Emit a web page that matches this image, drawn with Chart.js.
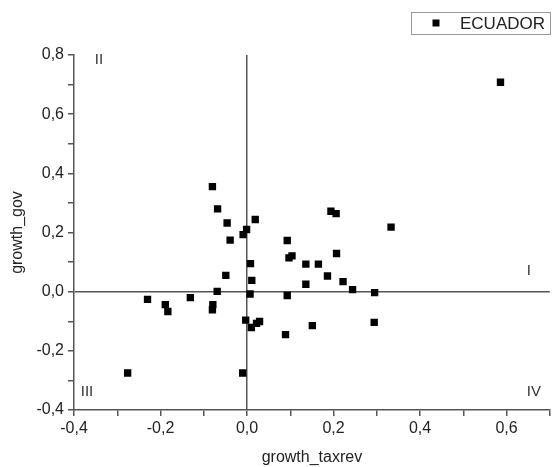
<!DOCTYPE html>
<html>
<head>
  <meta charset="UTF-8" />
  <title>growth_gov vs growth_taxrev</title>
  <style>
    html, body { margin: 0; padding: 0; background: #fff; }
    #wrap { width: 555px; height: 467px; }
  </style>
</head>
<body>
  <div id="wrap"><canvas id="scatter"></canvas></div>
  <script src="https://cdn.jsdelivr.net/npm/chart.js"></script>
  <script>
    const seriesName = 'ECUADOR';

    const taxrev = [
      -0.080, -0.068, -0.046, -0.039, -0.009, -0.001, 0.019, 0.093, 0.097, 0.104,
      0.136, 0.008, 0.011, -0.049, -0.069, 0.007, 0.093, 0.136, -0.230, -0.189,
      -0.183, -0.131, -0.079, -0.080, 0.165, 0.186, 0.194, 0.206, 0.207, 0.222,
      0.244, 0.295, 0.333, 0.586, -0.003, 0.010, 0.022, 0.029, 0.089, 0.151,
      0.294, -0.276, -0.010
    ];
    const gov = [
      0.355, 0.280, 0.232, 0.174, 0.193, 0.210, 0.244, 0.173, 0.114, 0.121,
      0.093, 0.095, 0.038, 0.055, 0.001, -0.008, -0.013, 0.025, -0.026, -0.044,
      -0.067, -0.020, -0.044, -0.061, 0.093, 0.053, 0.272, 0.264, 0.129, 0.034,
      0.007, -0.003, 0.218, 0.708, -0.096, -0.121, -0.107, -0.101, -0.145, -0.115,
      -0.104, -0.275, -0.275
    ];

    const xTicks = [-0.4, -0.2, 0.0, 0.2, 0.4, 0.6];
    const yTicks = [-0.4, -0.2, 0.0, 0.2, 0.4, 0.6, 0.8];
    const quadrants = ['I', 'II', 'III', 'IV'];

    const points = taxrev.map((x, i) => ({ x: x, y: gov[i] }));

    const fmt = v => v.toFixed(1).replace('.', ',');
    const isMajor = (v, list) => list.some(t => Math.abs(t - v) < 1e-6);

    const axisColor = '#555';
    const textColor = '#222';
    const fontFamily = '"Liberation Sans", Arial, sans-serif';

    // quadrant labels + framed legend, drawn on top of the chart
    const extras = {
      id: 'extras',
      afterDraw(chart) {
        const ctx = chart.ctx;
        const a = chart.chartArea;
        const y0 = chart.scales.y.getPixelForValue(0);
        ctx.save();
        ctx.fillStyle = '#333';
        ctx.font = '15px ' + fontFamily;
        ctx.textAlign = 'center';
        ctx.textBaseline = 'middle';
        ctx.fillText(quadrants[0], a.right - 21, y0 - 21);
        ctx.fillText(quadrants[1], a.left + 25, a.top + 5);
        ctx.fillText(quadrants[2], a.left + 13, a.bottom - 18);
        ctx.fillText(quadrants[3], a.right - 16, a.bottom - 18);

        // legend box
        ctx.strokeStyle = '#999';
        ctx.lineWidth = 1;
        ctx.strokeRect(411.5, 12.5, 139, 22);
        ctx.fillStyle = '#000';
        ctx.fillRect(432.5, 19.5, 7, 7);
        ctx.fillStyle = textColor;
        ctx.font = '17px ' + fontFamily;
        ctx.textAlign = 'left';
        ctx.fillText(seriesName, 460, 24);
        ctx.restore();
      }
    };

    new Chart(document.getElementById('scatter'), {
      type: 'scatter',
      data: {
        datasets: [{
          label: seriesName,
          data: points,
          pointStyle: 'rect',
          pointRadius: 5.2,
          pointHoverRadius: 5.2,
          backgroundColor: '#000',
          borderColor: '#000',
          borderWidth: 0
        }]
      },
      options: {
        responsive: true,
        maintainAspectRatio: false,
        animation: false,
        layout: { padding: { top: 55, right: 0, bottom: 0, left: 0 } },
        plugins: {
          legend: { display: false },
          tooltip: { enabled: false }
        },
        scales: {
          x: {
            type: 'linear',
            min: -0.4,
            max: 0.7,
            afterFit: s => { s.height = 57; s.paddingLeft = 0; s.paddingRight = 0; },
            border: { display: true, color: axisColor, width: 1.5 },
            grid: {
              drawOnChartArea: true,
              color: c => (Math.abs(c.tick.value) < 1e-6 ? axisColor : 'rgba(0,0,0,0)'),
              lineWidth: 1.5,
              tickColor: axisColor,
              tickLength: 6
            },
            ticks: {
              stepSize: 0.1,
              color: textColor,
              font: { family: fontFamily, size: 16 },
              padding: 3,
              maxRotation: 0,
              autoSkip: false,
              callback: v => (isMajor(v, xTicks) ? fmt(v) : '')
            },
            title: {
              display: true,
              text: 'growth_taxrev',
              color: textColor,
              font: { family: fontFamily, size: 16 },
              padding: 0
            }
          },
          y: {
            type: 'linear',
            min: -0.4,
            max: 0.8,
            afterFit: s => { s.width = 74; },
            border: { display: true, color: axisColor, width: 1.5 },
            grid: {
              drawOnChartArea: true,
              color: c => (Math.abs(c.tick.value) < 1e-6 ? axisColor : 'rgba(0,0,0,0)'),
              lineWidth: 1.5,
              tickColor: axisColor,
              tickLength: 6
            },
            ticks: {
              stepSize: 0.1,
              color: textColor,
              font: { family: fontFamily, size: 16 },
              padding: 4,
              autoSkip: false,
              callback: v => (isMajor(v, yTicks) ? fmt(v) : '')
            },
            title: {
              display: true,
              text: 'growth_gov',
              color: textColor,
              font: { family: fontFamily, size: 16 },
              padding: { top: 8, bottom: 8 }
            }
          }
        }
      },
      plugins: [extras]
    });
  </script>
</body>
</html>
